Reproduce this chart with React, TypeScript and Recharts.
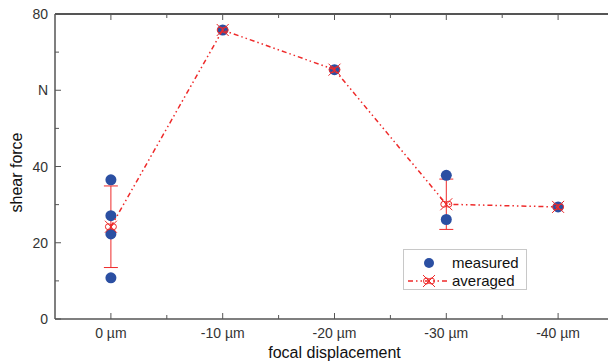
import React from "react";
import { ComposedChart, Scatter, XAxis, YAxis, ErrorBar } from "recharts";

const categories = ["0 µm", "-10 µm", "-20 µm", "-30 µm", "-40 µm"];
const measuredX = [0, 0, 0, 0, 1, 2, 3, 3, 4];
const measuredY = [36.5, 27.1, 22.3, 10.8, 75.8, 65.4, 37.7, 26.1, 29.4];
const averagedY = [24.2, 75.8, 65.4, 30.1, 29.4];
const averagedErr = [10.7, 0, 0, 6.6, 0];
const yTicks = [0, 10, 20, 30, 40, 50, 60, 70, 80];
const yLabels: Record<number, string> = { 0: "0", 20: "20", 40: "40", 60: "N", 80: "80" };
const xTicks = [0, 0.5, 1, 1.5, 2, 2.5, 3, 3.5, 4];
const xMin = -0.5;
const xMax = 4.5;
const yMax = 80;

const measured = measuredX.map((x, i) => ({ x, y: measuredY[i] }));
const averaged = averagedY.map((y, i) => ({ x: i, y, err: averagedErr[i] }));

const W = 608;
const H = 353;
const M = { top: 6, right: 2, bottom: 0, left: 0 };
const Y_AXIS_W = 47;
const X_AXIS_H = 42;
const PLOT_W = W - M.left - M.right - Y_AXIS_W;
const PLOT_H = H - M.top - M.bottom - X_AXIS_H;
const PLOT_L = M.left + Y_AXIS_W;
const PLOT_T = M.top;

const FONT = "'Liberation Sans', Arial, sans-serif";
const AX = "#555";
const TXT = "#333";
const RED = "#ee2a2a";
const BLUE = "#2b4fa2";

const isMajorX = (v: number) => Number.isInteger(v);
const isMajorY = (v: number) => v % 20 === 0;

const BottomTick = (p: any) => {
  const v = p.payload.value;
  const len = isMajorX(v) ? 6 : 4;
  return (
    <g>
      <line x1={p.x} x2={p.x} y1={p.y} y2={p.y - len} stroke={AX} strokeWidth={1} />
      <line x1={p.x} x2={p.x} y1={p.y - PLOT_H} y2={p.y - PLOT_H + len} stroke={AX} strokeWidth={1} />
      {isMajorX(v) && (
        <text x={p.x} y={p.y + 19} textAnchor="middle" fontSize={14} fontFamily={FONT} fill={TXT}>
          {categories[v]}
        </text>
      )}
    </g>
  );
};

const LeftTick = (p: any) => {
  const v = p.payload.value;
  const len = isMajorY(v) ? 6 : 4;
  return (
    <g>
      <line x1={p.x} x2={p.x + len} y1={p.y} y2={p.y} stroke={AX} strokeWidth={1} />
      <line x1={p.x + PLOT_W} x2={p.x + PLOT_W - len} y1={p.y} y2={p.y} stroke={AX} strokeWidth={1} />
      {isMajorY(v) && (
        <text x={p.x - 7} y={p.y + 5} textAnchor="end" fontSize={14} fontFamily={FONT} fill={TXT}>
          {yLabels[v]}
        </text>
      )}
    </g>
  );
};

const AvgMarker = ({ cx, cy }: any) => (
  <g stroke={RED} strokeWidth={1} fill="none">
    <line x1={cx - 6} y1={cy - 6} x2={cx + 6} y2={cy + 6} />
    <line x1={cx - 6} y1={cy + 6} x2={cx + 6} y2={cy - 6} />
    <circle cx={cx - 2.5} cy={cy} r={3} />
    <circle cx={cx + 2.5} cy={cy} r={3} />
  </g>
);

const MeasMarker = ({ cx, cy }: any) => <circle cx={cx} cy={cy} r={5.5} fill={BLUE} />;

const FrameBox = () => (
  <div
    style={{
      position: "absolute",
      left: PLOT_L,
      top: PLOT_T - 1,
      width: PLOT_W,
      height: PLOT_H,
      borderTop: `2px solid ${AX}`,
      borderRight: `2px solid ${AX}`,
      boxSizing: "border-box",
      pointerEvents: "none",
    }}
  />
);

const LegendBox = () => (
  <div
    style={{
      position: "absolute",
      left: 395,
      top: 241,
      width: 122,
      height: 39,
      border: "1px solid #c8c8c8",
      background: "#fff",
    }}
  >
    <svg width={122} height={39} style={{ position: "absolute", left: 0, top: 0 }}>
      <circle cx={25} cy={13} r={5} fill={BLUE} />
      <line x1={4} x2={44} y1={31} y2={31} stroke={RED} strokeWidth={1.5} strokeDasharray="5,3,1.5,3,1.5,3" />
      <AvgMarker cx={25} cy={31} />
      <text x={48} y={18} fontSize={15} fontFamily={FONT} fill="#111">measured</text>
      <text x={48} y={36} fontSize={15} fontFamily={FONT} fill="#111">averaged</text>
    </svg>
  </div>
);

export default function App() {
  return (
    <div style={{ position: "relative", width: W, height: H }}>
      <ComposedChart width={W} height={H} margin={M}>
        <XAxis
          type="number"
          dataKey="x"
          domain={[xMin, xMax]}
          ticks={xTicks}
          interval={0}
          tick={<BottomTick />}
          tickLine={false}
          tickSize={0}
          tickMargin={0}
          axisLine={{ stroke: AX, strokeWidth: 1.5 }}
          height={X_AXIS_H}
          label={{ value: "focal displacement", position: "insideBottom", offset: 0, dy: -3, fontSize: 16, fontFamily: FONT, fill: "#111" }}
        />
        <YAxis
          type="number"
          domain={[0, yMax]}
          ticks={yTicks}
          interval={0}
          tick={<LeftTick />}
          tickLine={false}
          tickSize={0}
          tickMargin={0}
          axisLine={{ stroke: AX, strokeWidth: 1.5 }}
          width={Y_AXIS_W}
          label={{ value: "shear force", angle: -90, position: "insideLeft", offset: 0, dx: 8, dy: 6, fontSize: 16, fontFamily: FONT, fill: "#111", style: { textAnchor: "middle" } }}
        />
        <Scatter
          name="measured"
          data={measured}
          dataKey="y"
          shape={<MeasMarker />}
          isAnimationActive={false}
        />
        <Scatter
          name="averaged"
          data={averaged}
          dataKey="y"
          shape={<AvgMarker />}
          line={{ stroke: RED, strokeWidth: 1.5, strokeDasharray: "5,3,1.5,3,1.5,3" }}
          lineType="joint"
          isAnimationActive={false}
        >
          <ErrorBar dataKey="err" direction="y" width={7} stroke={RED} strokeWidth={1} isAnimationActive={false} />
        </Scatter>
      </ComposedChart>
      <FrameBox />
      <LegendBox />
    </div>
  );
}
